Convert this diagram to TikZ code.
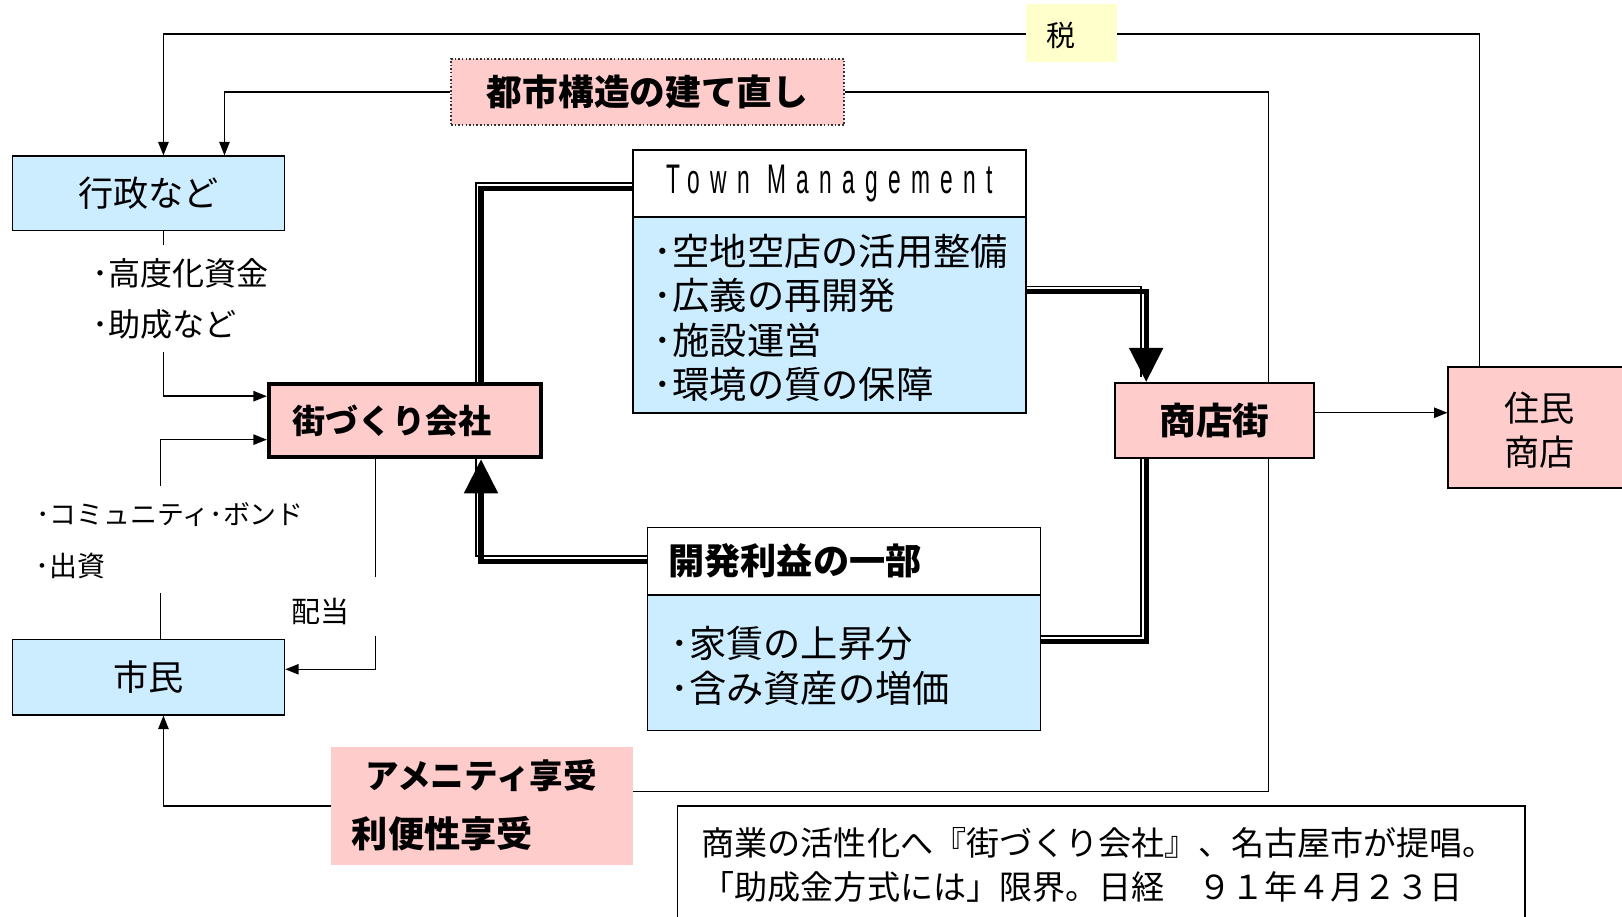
\documentclass[tikz,border=0pt]{standalone}
\usepackage{fontspec}
\setmainfont{Noto Sans CJK JP}
\newfontfamily\tmfont[FakeStretch=0.55,LetterSpace=25]{Liberation Sans}
\usetikzlibrary{arrows.meta,backgrounds}
\definecolor{lblue}{RGB}{204,236,255}
\definecolor{lpink}{RGB}{255,204,204}
\definecolor{lyellow}{RGB}{255,255,204}
\newcommand\fsz[2]{\fontsize{#1}{#2}\selectfont}
\begin{document}
\begin{tikzpicture}[x=1pt,y=-1pt,
  every node/.style={inner sep=0pt},
  box/.style={draw=black, line width=1.5pt, rectangle},
  conn/.style={line width=1.4pt},
  arr/.style={conn, -{Triangle[length=13pt,width=10pt]}},
  dbl/.style={line width=5pt, preaction={draw, arrows=-, line width=1.6pt, transform canvas={shift={(-5pt,5pt)}}}},
  bigarr/.style={-{Triangle[length=33pt,width=32pt]}},
]
\useasboundingbox (0,0) rectangle (1568,886);

% ---------- nodes ----------
\node[fill=lyellow, minimum width=88pt, minimum height=56pt] (zei) at (1036,32) {};
\node[font=\fsz{28pt}{32pt}] (zeit) at (1026,34) {税};

\node[box, draw=black!80, dotted, fill=lpink, minimum width=380pt, minimum height=64pt,
      font=\fsz{34.5pt}{40pt}\bfseries] (toshi) at (626,89) {都市構造の建て直し};

\node[box, fill=lblue, minimum width=263pt, minimum height=72pt, font=\fsz{34pt}{40pt}]
  (gyosei) at (143.5,187) {行政など};

\node[box, fill=lblue, minimum width=263pt, minimum height=73pt, font=\fsz{34pt}{40pt}]
  (shimin) at (143.5,654.5) {市民};

\node[draw=black, line width=4pt, fill=lpink, minimum width=263pt, minimum height=71pt,
      text width=217pt, align=left, font=\fsz{32pt}{37pt}\bfseries]
  (machi) at (391.5,406.5) {街づくり会社};

\node[box, fill=white, minimum width=380pt, minimum height=65pt, font=\fsz{40pt}{44pt}\tmfont]
  (tmh) at (802,177.5) {Town Management};
\node[box, fill=lblue, minimum width=380pt, minimum height=189pt, text width=340pt, align=left,
      font=\fsz{36pt}{43pt}]
  (tmb) at (802,304.5) {};
\node[anchor=west, align=left, font=\fsz{36pt}{43pt}] (tmbt) at (632,307.5)
  {･空地空店の活用整備\\･広義の再開発\\･施設運営\\･環境の質の保障};

\node[box, fill=white, minimum width=380pt, minimum height=65pt, text width=340pt, align=left,
      font=\fsz{35pt}{40pt}\bfseries]
  (kh) at (816,542.5) {開発利益の一部};
\node[box, fill=lblue, minimum width=380pt, minimum height=131pt] (kb) at (816,640.5) {};
\node[anchor=west, align=left, font=\fsz{36pt}{43pt}] (kbt) at (648,643.5)
  {･家賃の上昇分\\･含み資産の増価};

\node[box, fill=lpink, minimum width=192pt, minimum height=73pt, font=\fsz{35.5pt}{40pt}\bfseries]
  (shotengai) at (1174,406.5) {商店街};

\node[box, fill=lpink, minimum width=180pt, minimum height=117pt] (jumin) at (1490,413.5) {};
\node[align=center, font=\fsz{34pt}{42pt}] (jumint) at (1488,416) {住民\\商店};

\node[fill=lpink, minimum width=292pt, minimum height=114pt] (amenity) at (466,779) {};
\node[font=\fsz{32.5pt}{36pt}\bfseries] (am1) at (465,750) {アメニティ享受};
\node[anchor=west, font=\fsz{35pt}{38pt}\bfseries] (am2) at (340,806) {利便性享受};

\node[draw=black, line width=1.8pt, minimum width=819pt, minimum height=130pt] (cap) at (1064.5,844) {};
\node[anchor=west, align=left, font=\fsz{32pt}{43pt}] (capt) at (678,836)
  {商業の活性化へ『街づくり会社』、名古屋市が提唱。\\「助成金方式には」限界。日経　９１年４月２３日};

% labels
\node[anchor=west, font=\fsz{31pt}{36pt}] (l1) at (89,264) {･高度化資金};
\node[anchor=west, font=\fsz{31pt}{36pt}] (l2) at (89,314) {･助成など};
\node[anchor=west, font=\fsz{26pt}{32pt}] (l3) at (35,497) {･コミュニティ･ボンド};
\node[anchor=west, font=\fsz{27pt}{32pt}] (l4) at (34,547) {･出資};
\node[font=\fsz{28pt}{32pt}] (l5) at (310,591) {配当};

% ---------- connectors ----------
\begin{scope}[on background layer]
  \coordinate (t1) at (1430,33);
  \coordinate (t2) at (158,33);
  \draw[arr] (jumin.north -| t1) -- (t1) -- (t2) -- (gyosei.north -| t2);

  \coordinate (u1) at (217,0);
  \draw[arr] (toshi.west) -| (gyosei.north -| u1);
  \coordinate (u2) at (1226,765);
  \draw[conn] (toshi.east) -| (u2) -- (amenity.east |- u2);

  \coordinate (a1) at (158,237);
  \coordinate (a2) at (158,340);
  \coordinate (a3) at (0,383);
  \draw[conn] (gyosei.south -| a1) -- (a1);
  \draw[arr] (a2) |- (machi.west |- a3);

  \coordinate (b1) at (155,573);
  \coordinate (b2) at (155,470);
  \coordinate (b3) at (0,425);
  \draw[conn] (shimin.north -| b1) -- (b1);
  \draw[arr] (b2) |- (machi.west |- b3);

  \coordinate (c1) at (363,558);
  \coordinate (c2) at (363,615);
  \coordinate (c3) at (0,647);
  \draw[conn] (machi.south -| c1) -- (c1);
  \draw[arr] (c2) |- (shimin.east |- c3);

  \coordinate (d1) at (158,0);
  \draw[arr] (amenity.west) -| (shimin.south -| d1);

  \coordinate (e1) at (0,399);
  \draw[arr] (shotengai.east |- e1) -- (jumin.west |- e1);

  \coordinate (f1) at (465,0);
  \coordinate (g1) at (0,182);
  \draw[dbl] ([xshift=8pt]tmh.west |- g1) -| ([yshift=-8pt]machi.north -| f1);
  \draw[dbl, bigarr] ([xshift=8pt]kh.west) -| (machi.south -| f1);
  \coordinate (h1) at (1108,282);
  \draw[dbl, bigarr] (tmb.east |- h1) -| (shotengai.north -| h1);
  \coordinate (h2) at (1108,620);
  \draw[dbl] (shotengai.south -| h2) |- (kb.east |- h2);
\end{scope}
\end{tikzpicture}
\end{document}
